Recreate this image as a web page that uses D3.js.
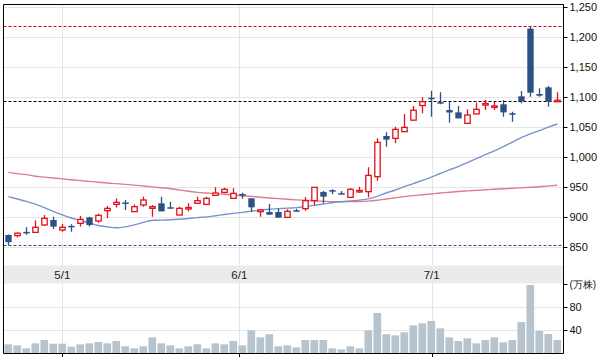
<!DOCTYPE html>
<html><head><meta charset="utf-8">
<script src="https://cdn.jsdelivr.net/npm/d3@7/dist/d3.min.js"></script>
<style>
html,body{margin:0;padding:0;background:#fff;}
svg{display:block;}
text{font-family:"Liberation Sans",Arial,sans-serif;}
</style></head><body>
<svg id="chart" width="603" height="357"></svg>
<script>
// ---- data (index = trading day) ----
const opens  = [870,869,874,874.4,886.7,895,878.3,884,889.4,899.4,893.3,910.6,921,923,908.9,920,914.4,922.8,915,903.3,914,922.8,921,936.1,941,931.1,938.3,931.1,908.9,908.3,908.3,899.4,910,913.9,927.2,941.7,943.5,938.5,932.8,941,942.2,967.2,1035,1031.1,1042.2,1061.4,1085.8,1097.6,1091.4,1078.3,1074.4,1056.1,1071.7,1086.1,1083.3,1087.8,1071.7,1101.1,1213.9,1105,1116.1,1093];
const highs  = [871,874,883,894,903.3,900.6,888.3,888,901.7,900.6,905.6,918.3,931,928.3,921,933.9,920,933.9,925.6,917.2,922.8,933.9,933.9,949.4,948.9,947.8,940.6,931.1,912.8,921.7,913.9,912.8,913.9,933.3,949.4,943.3,946.1,943.3,947.8,950.6,982.8,1031.1,1041.1,1050.6,1071.7,1085,1099.4,1110.3,1107.8,1091.6,1085,1079.4,1090.6,1095,1092.2,1095,1075.6,1110,1218.3,1114.4,1118.3,1107.8];
const lows   = [853,866,870.6,874,885,880,875.6,875.6,884,884,890.6,897.8,916,911.7,908.9,917,900.6,909.4,914,903,909,922.8,921,936,939.4,931,930.6,908.9,900.6,903.9,898.9,899.4,908.9,910.6,919.4,922.8,937.8,937.8,932.8,940.6,932.8,960.6,1017.2,1022.8,1042,1061,1072.8,1067.2,1087.8,1057.2,1064.4,1056,1071.7,1078.3,1078.3,1067.2,1058.9,1089.4,1100.6,1100.6,1083.9,1093];
const closes = [858,873,873,882.8,897.8,884,882.8,883,896,886.7,902.8,914.4,924.4,922.5,917.2,928.3,917.2,909.4,914.4,914.4,914.6,927.2,931.1,940,946.1,939.4,935.6,916.1,911.7,903.9,898.9,909.4,909.4,927.2,949.4,933.9,943.3,938.3,946.1,943,969.4,1024.4,1029,1046.1,1049.4,1078,1092.2,1097.4,1088.9,1074.2,1064.4,1070,1079.4,1087.8,1083.9,1074.4,1069.4,1092.8,1107.2,1102.2,1092.2,1093.3];
const volumes = [15.1,13.3,8.1,16.8,22.6,16.2,16.2,11,15.1,16.8,19.1,16.8,20.9,11.6,8.1,11.6,27.2,16.8,13.3,8.1,11.6,15.1,8.1,16.8,15.1,20.9,13.3,39.4,27.2,32.5,11.6,13.3,9.9,22.6,22.6,22.6,8.1,6.4,11.6,8.1,39.4,69.6,32.5,30.7,35.9,48.1,51.6,55.7,42.9,27.2,20.9,25.5,16.8,22.6,27.2,18.6,22.6,53.9,118.3,38.3,33,22.6];
const maShort = [934,930,926,921.5,915.5,909.5,903.6,898.4,894.2,890,885.8,883.7,882,883.5,886.8,891,894.5,894.8,895.4,896.3,897.5,899,900.2,902.1,904.1,906,907.8,909.7,911.5,913,913.9,914.8,915.6,917.3,919.4,921.6,923.8,925.3,926.8,928.2,930.2,934.5,940,945,950.5,955.5,961,966.5,972.5,978.5,984,990.6,997.2,1003.8,1010.3,1017.2,1024.7,1032.2,1038.5,1044,1049.7,1055];
const maLong = [974.4,972.2,970.6,968,966.5,965,963.5,962.1,960.7,959.4,958,956.6,955.6,954.4,953.2,951.7,950.2,948.7,947.2,945.1,943,941.1,939.9,938.9,937.8,936.7,935.5,934.3,933,931.7,930.6,929.6,928.6,927.8,927,926.3,925.6,925.6,925.6,925.8,926.5,928,930,932,934,935.6,937,938.5,940,941.2,942.5,943.5,944.4,945.3,946.2,947,947.8,948.6,949.5,950.5,951.8,953];
const monthLabels = ["5/1","6/1","7/1"];
const monthIndex  = [6, 25.67, 47.04];
const priceTicks = [850,900,950,1000,1050,1100,1150,1200,1250];
const volTicks = [40,80,120];
const volTickLabels = ["40","80","(万株)"];

// ---- layout ----
const L = 3.5, R = 563.5, T = 4.5, priceBottom = 265.5, bandBottom = 283.5, B = 353.5;
const svg = d3.select("#chart");
const n = closes.length;
const x = d3.scaleLinear().domain([0, n - 1]).range([8.3, 557.3]);
const y = d3.scaleLinear().domain([850, 1250]).range([247, 7]);
const yv = d3.scaleLinear().domain([0, 120]).range([353, 284]);
const blue = "#2d5184", red = "#e2111b", grid = "#e6e6e6";

svg.append("defs").append("clipPath").attr("id","pclip")
  .append("rect").attr("x",L).attr("y",T).attr("width",R-L).attr("height",priceBottom-T);

// gridlines
const g = svg.append("g");
g.selectAll(".hg").data(priceTicks).enter().append("line")
  .attr("x1",L).attr("x2",R).attr("y1",d=>Math.round(y(d))+0.5).attr("y2",d=>Math.round(y(d))+0.5)
  .attr("stroke",grid).attr("stroke-width",1);
g.selectAll(".vg").data(volTicks.slice(0,2)).enter().append("line")
  .attr("x1",L).attr("x2",R).attr("y1",d=>Math.round(yv(d))+0.5).attr("y2",d=>Math.round(yv(d))+0.5)
  .attr("stroke",grid).attr("stroke-width",1);
g.selectAll(".mg").data(monthIndex).enter().append("line")
  .attr("x1",d=>Math.round(x(d))+0.5).attr("x2",d=>Math.round(x(d))+0.5).attr("y1",T).attr("y2",B)
  .attr("stroke",grid).attr("stroke-width",1);

// date band
svg.append("rect").attr("x",L).attr("y",priceBottom).attr("width",R-L).attr("height",bandBottom-priceBottom).attr("fill","#ebebeb");
svg.selectAll(".ml").data(monthLabels).enter().append("text")
  .attr("x",(d,i)=>x(monthIndex[i])).attr("y",279).attr("text-anchor","middle")
  .attr("font-size","11.5px").attr("fill","#222").text(d=>d);

const pg = svg.append("g").attr("clip-path","url(#pclip)");

// reference dashed lines
const refs = [
  {v: d3.max(highs), c: "#e00000"},
  {v: closes[n-1], c: "#000"},
  {v: d3.min(lows), c: blue}
];
pg.selectAll(".ref").data(refs).enter().append("line")
  .attr("x1",L).attr("x2",R).attr("y1",d=>Math.round(y(d.v))+0.5).attr("y2",d=>Math.round(y(d.v))+0.5)
  .attr("stroke",d=>d.c).attr("stroke-width",1).attr("stroke-dasharray","3,2");

// moving averages
const line = d3.line().x((d,i)=>x(i)).y(d=>y(d)).curve(d3.curveMonotoneX);
pg.append("path").attr("d",line(maLong)).attr("fill","none").attr("stroke","#d9707e").attr("stroke-width",1.4).attr("opacity",0.9);
pg.append("path").attr("d",line(maShort)).attr("fill","none").attr("stroke","#6f86c6").attr("stroke-width",1.4).attr("opacity",0.9);

// candles
const idx = d3.range(n);
const cg = pg.selectAll(".c").data(idx).enter().append("g");
cg.append("line")
  .attr("x1",i=>Math.round(x(i))+0.5).attr("x2",i=>Math.round(x(i))+0.5)
  .attr("y1",i=>y(highs[i])).attr("y2",i=>y(lows[i]))
  .attr("stroke",i=>closes[i]>=opens[i]?red:blue).attr("stroke-width",1.3);
cg.append("rect")
  .attr("x",i=>Math.round(x(i))+0.5-(closes[i]>=opens[i]?2.7:3.2))
  .attr("width",i=>closes[i]>=opens[i]?5.4:6.4)
  .attr("y",i=>y(Math.max(opens[i],closes[i])) - (Math.abs(y(opens[i])-y(closes[i]))<1.5?0.75:0))
  .attr("height",i=>Math.max(1.5, Math.abs(y(opens[i])-y(closes[i]))))
  .attr("fill",i=>closes[i]>=opens[i]?"#fff":blue)
  .attr("stroke",i=>closes[i]>=opens[i]?red:"none")
  .attr("stroke-width",1.3);

// volume bars
svg.selectAll(".vb").data(volumes).enter().append("rect")
  .attr("x",(d,i)=>x(i)-3.85).attr("width",7.7)
  .attr("y",d=>yv(d)).attr("height",d=>yv(0)-yv(d))
  .attr("fill","#b8c4cd");

// frame
svg.append("line").attr("x1",L).attr("x2",L).attr("y1",T).attr("y2",B).attr("stroke","#000");
svg.append("line").attr("x1",L).attr("x2",R).attr("y1",T).attr("y2",T).attr("stroke","#000");
svg.append("line").attr("x1",L).attr("x2",R).attr("y1",B).attr("y2",B).attr("stroke","#000");
svg.append("line").attr("x1",R).attr("x2",R).attr("y1",T).attr("y2",B).attr("stroke","#000");

// bottom month ticks
svg.selectAll(".bt").data(monthIndex).enter().append("line")
  .attr("x1",d=>Math.round(x(d))+0.5).attr("x2",d=>Math.round(x(d))+0.5).attr("y1",B).attr("y2",B+4).attr("stroke","#000");

// right axes
const ra = svg.append("g").attr("transform",`translate(${R},0)`);
const pAxis = d3.axisRight(y).tickValues(priceTicks).tickSize(4).tickPadding(2).tickFormat(d3.format(","));
ra.call(pAxis);
const vAxis = d3.axisRight(yv).tickValues(volTicks).tickSize(4).tickPadding(2).tickFormat((d,i)=>volTickLabels[i]);
const va = svg.append("g").attr("transform",`translate(${R},0)`).call(vAxis);
[ra, va].forEach(a=>{
  a.select(".domain").remove();
  a.selectAll("text").attr("font-family","'Liberation Sans',Arial,sans-serif").attr("font-size","11px").attr("fill","#111");
  a.selectAll("line").attr("stroke","#000");
});
va.selectAll("text").filter((d)=>d===120).attr("font-size","10px").attr("font-family","'Noto Sans CJK JP','Liberation Sans',sans-serif");
</script>
</body></html>
